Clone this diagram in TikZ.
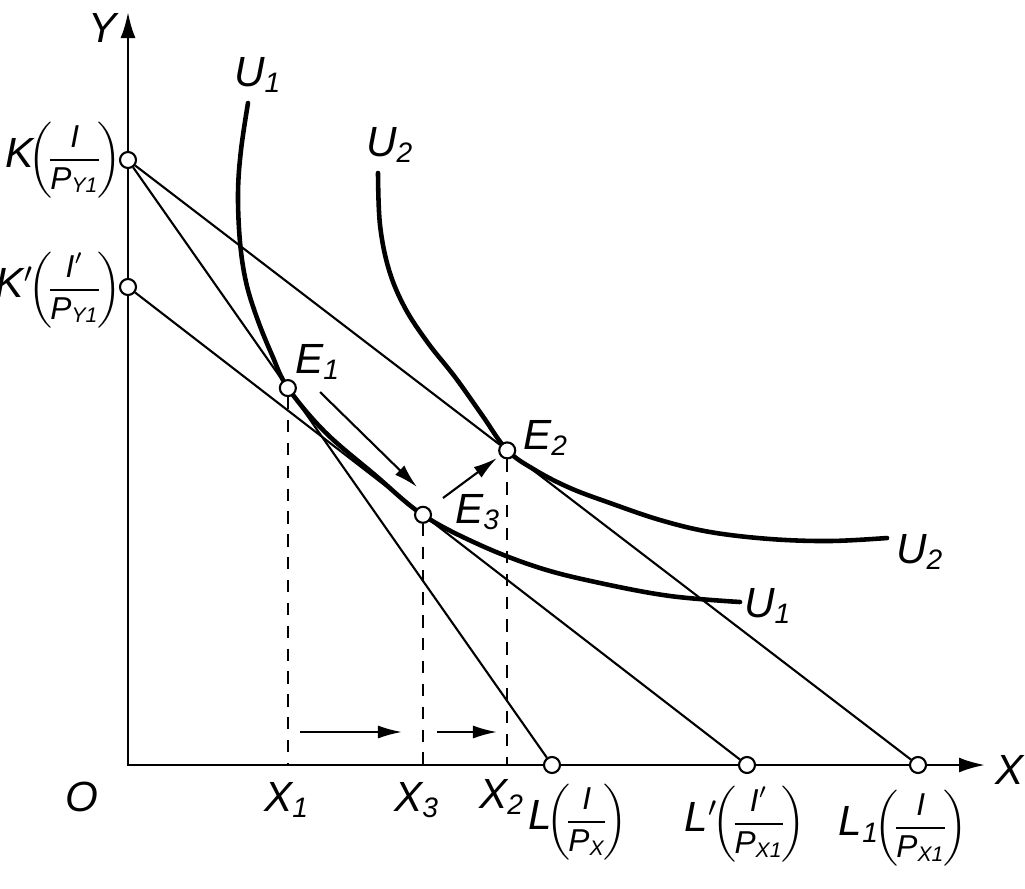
\documentclass[tikz,border=0pt]{standalone}
\usepackage{amsmath}
\usepackage{fontspec}
\setmainfont{Liberation Sans}
\usetikzlibrary{arrows.meta,calc}

\newcommand{\vr}[1]{\textit{#1}}
\newcommand{\sbs}[1]{\ensuremath{_{\textit{#1}}}}
\newcommand{\pfr}[2]{{\fontsize{9}{10}\selectfont\nulldelimiterspace=0pt%
    $\!\left(\mkern-1mu\dfrac{#1}{#2}\mkern-1mu\right)$}}

\begin{document}
\begin{tikzpicture}[
        x=0.01cm, y=-0.01cm,
        font=\fontsize{12}{14}\selectfont\itshape,
        axis/.style={line width=0.75pt, -{Latex[length=2.6mm,width=1.5mm]}},
        budget/.style={line width=0.6pt},
        indiff/.style={line width=1.3pt, line cap=round},
        guide/.style={line width=0.6pt, dash pattern=on 3.5pt off 3pt},
        moveto/.style={line width=0.6pt, -{Latex[length=2.4mm,width=1.3mm]}},
        pt/.style={circle, draw, fill=white, line width=0.6pt,
                   inner sep=0pt, minimum size=1.6mm},
        lbl/.style={inner sep=1pt}
    ]
    \useasboundingbox (0,0) rectangle (1025,888);

    % axes and intercepts
    \coordinate (O) at (128,765);
    \coordinate (ytip) at (128,12);
    \coordinate (xtip) at (985,765);
    \node[pt] (K) at (128,160) {};
    \node[pt] (Kp) at (128,287) {};
    \node[pt] (L) at (552,765) {};
    \node[pt] (Lp) at (747,765) {};
    \node[pt] (L1) at (918,765) {};

    % indifference curves
    \draw[indiff] plot[smooth, tension=0.6] coordinates {
        (248,103) (241,150) (238,193) (240,242) (246,282) (257,318)
        (272,355) (288,388) (325,432) (375,475) (423,515) (480,545)
        (540,568) (600,583) (670,596) (740,602)};
    \draw[indiff] plot[smooth, tension=0.6] coordinates {
        (378,173) (380,225) (389,270) (405,308) (428,343) (455,377)
        (482,415) (507,450) (535,470) (570,488) (610,503) (660,520)
        (710,532) (770,539) (830,541) (887,538)};

    % equilibria
    \node[pt] (E1) at ($(K)!0.377!(L)$) {};
    \node[pt] (E2) at ($(K)!0.48!(L1)$) {};
    \node[pt] (E3) at ($(Kp)!0.4766!(Lp)$) {};

    \draw[line width=0.75pt] (Kp) -- (O) -- (L);
    \draw[axis] (Kp) -- (K) (K) -- (ytip);
    \draw[axis] (L) -- (Lp) (Lp) -- (L1) (L1) -- (xtip);

    % budget lines
    \draw[budget] (K) -- (E1) (E1) -- (L);
    \draw[budget] (K) -- (E2) (E2) -- (L1);
    \draw[budget] (Kp) -- (E3) (E3) -- (Lp);

    \draw[guide] (E1) -- (E1 |- O);
    \draw[guide] (E3) -- (E3 |- O);
    \draw[guide] (E2) -- (E2 |- O);

    % shift arrows
    \coordinate (sa1) at (320,392);
    \coordinate (sa2) at (417,487);
    \coordinate (sb1) at (443,498);
    \coordinate (sb2) at (497,458);
    \coordinate (sc1) at (300,732);
    \coordinate (sc2) at (402,732);
    \coordinate (sd1) at (437,732);
    \coordinate (sd2) at (497,732);
    \draw[moveto] (sa1) -- (sa2);
    \draw[moveto] (sb1) -- (sb2);
    \draw[moveto] (sc1) -- (sc2);
    \draw[moveto] (sd1) -- (sd2);

    % labels
    \node[lbl] (Ylab) at (103,28) {Y};
    \node[lbl] (Xlab) at (1010,770) {X};
    \node[lbl] (Olab) at (82,797) {O};
    \node[lbl, inner sep=0pt, anchor=east] (Klab) at (122,160)
        {K\pfr{\vr{I}}{\vr{P}_{\vr{Y1}}}};
    \node[lbl, inner sep=0pt, anchor=east] (Kplab) at (122,290)
        {K$'$\pfr{\vr{I}'}{\vr{P}_{\vr{Y1}}}};
    \node[lbl] (U1top) at (258,75) {U\sbs{1}};
    \node[lbl] (U2top) at (390,145) {U\sbs{2}};
    \node[lbl] (U2end) at (920,552) {U\sbs{2}};
    \node[lbl] (U1end) at (768,606) {U\sbs{1}};
    \node[lbl] (E1lab) at (318,362) {E\sbs{1}};
    \node[lbl] (E2lab) at (546,438) {E\sbs{2}};
    \node[lbl] (E3lab) at (478,512) {E\sbs{3}};
    \node[lbl] (X1lab) at (287,800) {X\sbs{1}};
    \node[lbl] (X3lab) at (417,800) {X\sbs{3}};
    \node[lbl] (X2lab) at (502,797) {X\sbs{2}};
    \node[lbl, anchor=west] (Llab) at (524,822)
        {L\pfr{\vr{I}}{\vr{P}_{\vr{X}}}};
    \node[lbl] (Lplab) at (745,824)
        {L$'$\pfr{\vr{I}'}{\vr{P}_{\vr{X1}}}};
    \node[lbl] (L1lab) at (903,828)
        {L\sbs{1}\pfr{\vr{I}}{\vr{P}_{\vr{X1}}}};
\end{tikzpicture}
\end{document}
